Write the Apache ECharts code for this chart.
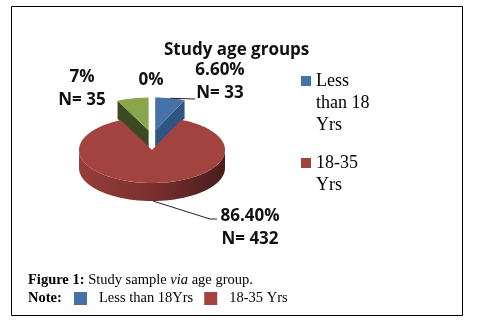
<!DOCTYPE html>
<html>
<head>
<meta charset="utf-8">
<script src="https://cdn.jsdelivr.net/npm/echarts@6/dist/echarts.min.js"></script>
<style>
  html, body { margin: 0; padding: 0; background: #fff; }
  #chart { width: 477px; height: 325px; }
</style>
</head>
<body>
<div id="chart"></div>
<script>
// values
const categories = ['Less than 18 Yrs', '18-35 Yrs', 'Above 35 Yrs', 'Not stated']
const counts = [33, 432, 35, 0]
const percents = ['6.60%', '86.40%', '7%', '0%']
const legendNames = ['Less than 18 Yrs', '18-35 Yrs']
// blank lines first so the marker sits beside the first line
const legendWrapped = ['\n\nLess\nthan 18\nYrs', '\n18-35\nYrs']
const noteNames = ['Less than 18Yrs', '18-35 Yrs']

// look of the 3d pie
const topColors = ['#4672A8', '#A24340', '#8AA64D', '#7A9CC9']
const cutColors = ['#2F5583', '#6E2B2A', '#3C4A22', '#4A6A94']
const explodeBy = [44, 0, 44, 0]
const pie = { cx: 152, cy: 150, rx: 73, ry: 33, depth: 18, sideShift: 0.35 }
// label spots: [centre x, first line centre y]
const labelAt = [[220, 70], [250, 216], [82, 77], [151, 80]]
const leaderTo = [[[195, 99]], [[210, 219], [217, 219]], null, null]

const total = counts.reduce((a, b) => a + b, 0)
const TWO_PI = Math.PI * 2

function sliceRender(k) {
  return function (params, api) {
    const before = counts.slice(0, k).reduce((a, b) => a + b, 0)
    const start = before / total * TWO_PI
    const end = (before + api.value(0)) / total * TWO_PI
    const mid = (start + end) / 2
    // pulled out slices sit at the back, so they move mostly upwards
    const ox = pie.cx + explodeBy[k] * Math.sin(mid) * pie.sideShift
    const oy = pie.cy - explodeBy[k] * Math.cos(mid) * pie.ry / pie.rx
    const rim = (a, dz) => [ox + pie.rx * Math.sin(a), oy - pie.ry * Math.cos(a) + (dz || 0)]
    const arc = (a0, a1, dz) => {
      const pts = []
      const n = Math.max(2, Math.ceil((a1 - a0) / 0.03))
      for (let i = 0; i <= n; i++) pts.push(rim(a0 + (a1 - a0) * i / n, dz))
      return pts
    }
    const children = []
    if (end > start) {
      // cut faces that turn to the viewer
      if (Math.cos(start - Math.PI / 2) < 0) {
        children.push({ type: 'polygon', shape: { points: [[ox, oy], rim(start), rim(start, pie.depth), [ox, oy + pie.depth]] }, style: { fill: cutColors[k] } })
      }
      if (Math.cos(end + Math.PI / 2) < 0) {
        children.push({ type: 'polygon', shape: { points: [[ox, oy], rim(end), rim(end, pie.depth), [ox, oy + pie.depth]] }, style: { fill: cutColors[k] } })
      }
      // front wall
      const a0 = Math.max(start, Math.PI / 2)
      const a1 = Math.min(end, Math.PI * 1.5)
      if (a1 > a0) {
        children.push({
          type: 'polygon',
          shape: { points: arc(a0, a1).concat(arc(a0, a1, pie.depth).reverse()) },
          style: {
            fill: new echarts.graphic.LinearGradient(0, 0, 1, 0, [
              { offset: 0, color: '#973d3b' },
              { offset: 0.5, color: '#7a302e' },
              { offset: 1, color: '#4a1c1b' }
            ])
          }
        })
      }
      // top face
      children.push({ type: 'polygon', shape: { points: [[ox, oy]].concat(arc(start, end)) }, style: { fill: topColors[k] } })
    }
    // label
    const txt = api.value(0) > 0 ? percents[k] + '\nN= ' + api.value(0) : percents[k]
    children.push({
      type: 'text',
      style: {
        text: txt, x: labelAt[k][0], y: labelAt[k][1] - 11.5,
        align: 'center', verticalAlign: 'top', lineHeight: 23,
        fontFamily: 'Open Sans', fontWeight: 'bold', fontSize: 17, fill: '#111'
      }
    })
    if (leaderTo[k]) {
      const front = Math.cos(mid) < 0
      children.push({
        type: 'polyline',
        shape: { points: [rim(mid, front ? pie.depth : 0)].concat(leaderTo[k]) },
        style: { stroke: '#222', lineWidth: 1, fill: null }
      })
    }
    return { type: 'group', children: children }
  }
}

const chart = echarts.init(document.getElementById('chart'))
chart.setOption({
  animation: false,
  backgroundColor: '#fff',
  title: {
    text: 'Study age groups',
    left: 159,
    top: 37,
    textStyle: { fontFamily: 'Open Sans', fontWeight: 'bold', fontSize: 17, color: '#111' }
  },
  legend: [{
    data: [legendNames[0]],
    left: 301, top: 26, padding: 0,
    icon: 'rect', itemWidth: 10, itemHeight: 10,
    selectedMode: false,
    formatter: () => legendWrapped[0],
    textStyle: { fontFamily: 'Liberation Serif', fontSize: 18, lineHeight: 22, color: '#000' }
  }, {
    data: [legendNames[1]],
    left: 301, top: 130, padding: 0,
    icon: 'rect', itemWidth: 10, itemHeight: 10,
    selectedMode: false,
    formatter: () => legendWrapped[1],
    textStyle: { fontFamily: 'Liberation Serif', fontSize: 18, lineHeight: 22, color: '#000' }
  }, {
    data: legendNames,
    left: 74, top: 291, padding: 0,
    icon: 'rect', itemWidth: 13, itemHeight: 13, itemGap: 11,
    selectedMode: false,
    formatter: name => noteNames[legendNames.indexOf(name)],
    textStyle: { fontFamily: 'Liberation Serif', fontSize: 14.5, color: '#000', padding: [0, 0, 0, 7] }
  }],
  graphic: [{
    type: 'rect',
    shape: { x: 11.5, y: 6.5, width: 451, height: 309 },
    style: { fill: 'none', stroke: '#000', lineWidth: 1 }
  }, {
    type: 'text',
    left: 28, top: 273,
    style: {
      text: '{b|Figure 1:} Study sample {i|via} age group.',
      fontFamily: 'Liberation Serif', fontSize: 14.5, fill: '#000',
      rich: { b: { fontWeight: 'bold', fontFamily: 'Liberation Serif', fontSize: 14.5 }, i: { fontStyle: 'italic', fontFamily: 'Liberation Serif', fontSize: 14.5 } }
    }
  }, {
    type: 'text',
    left: 28, top: 291,
    style: { text: 'Note:', fontFamily: 'Liberation Serif', fontWeight: 'bold', fontSize: 14.5, fill: '#000' }
  }],
  series: categories.map((name, k) => ({
    type: 'custom',
    name: name,
    coordinateSystem: 'none',
    z: k === 1 ? 3 : 2,
    itemStyle: { color: topColors[k] },
    renderItem: sliceRender(k),
    data: [[counts[k]]]
  }))
})
</script>
</body>
</html>
